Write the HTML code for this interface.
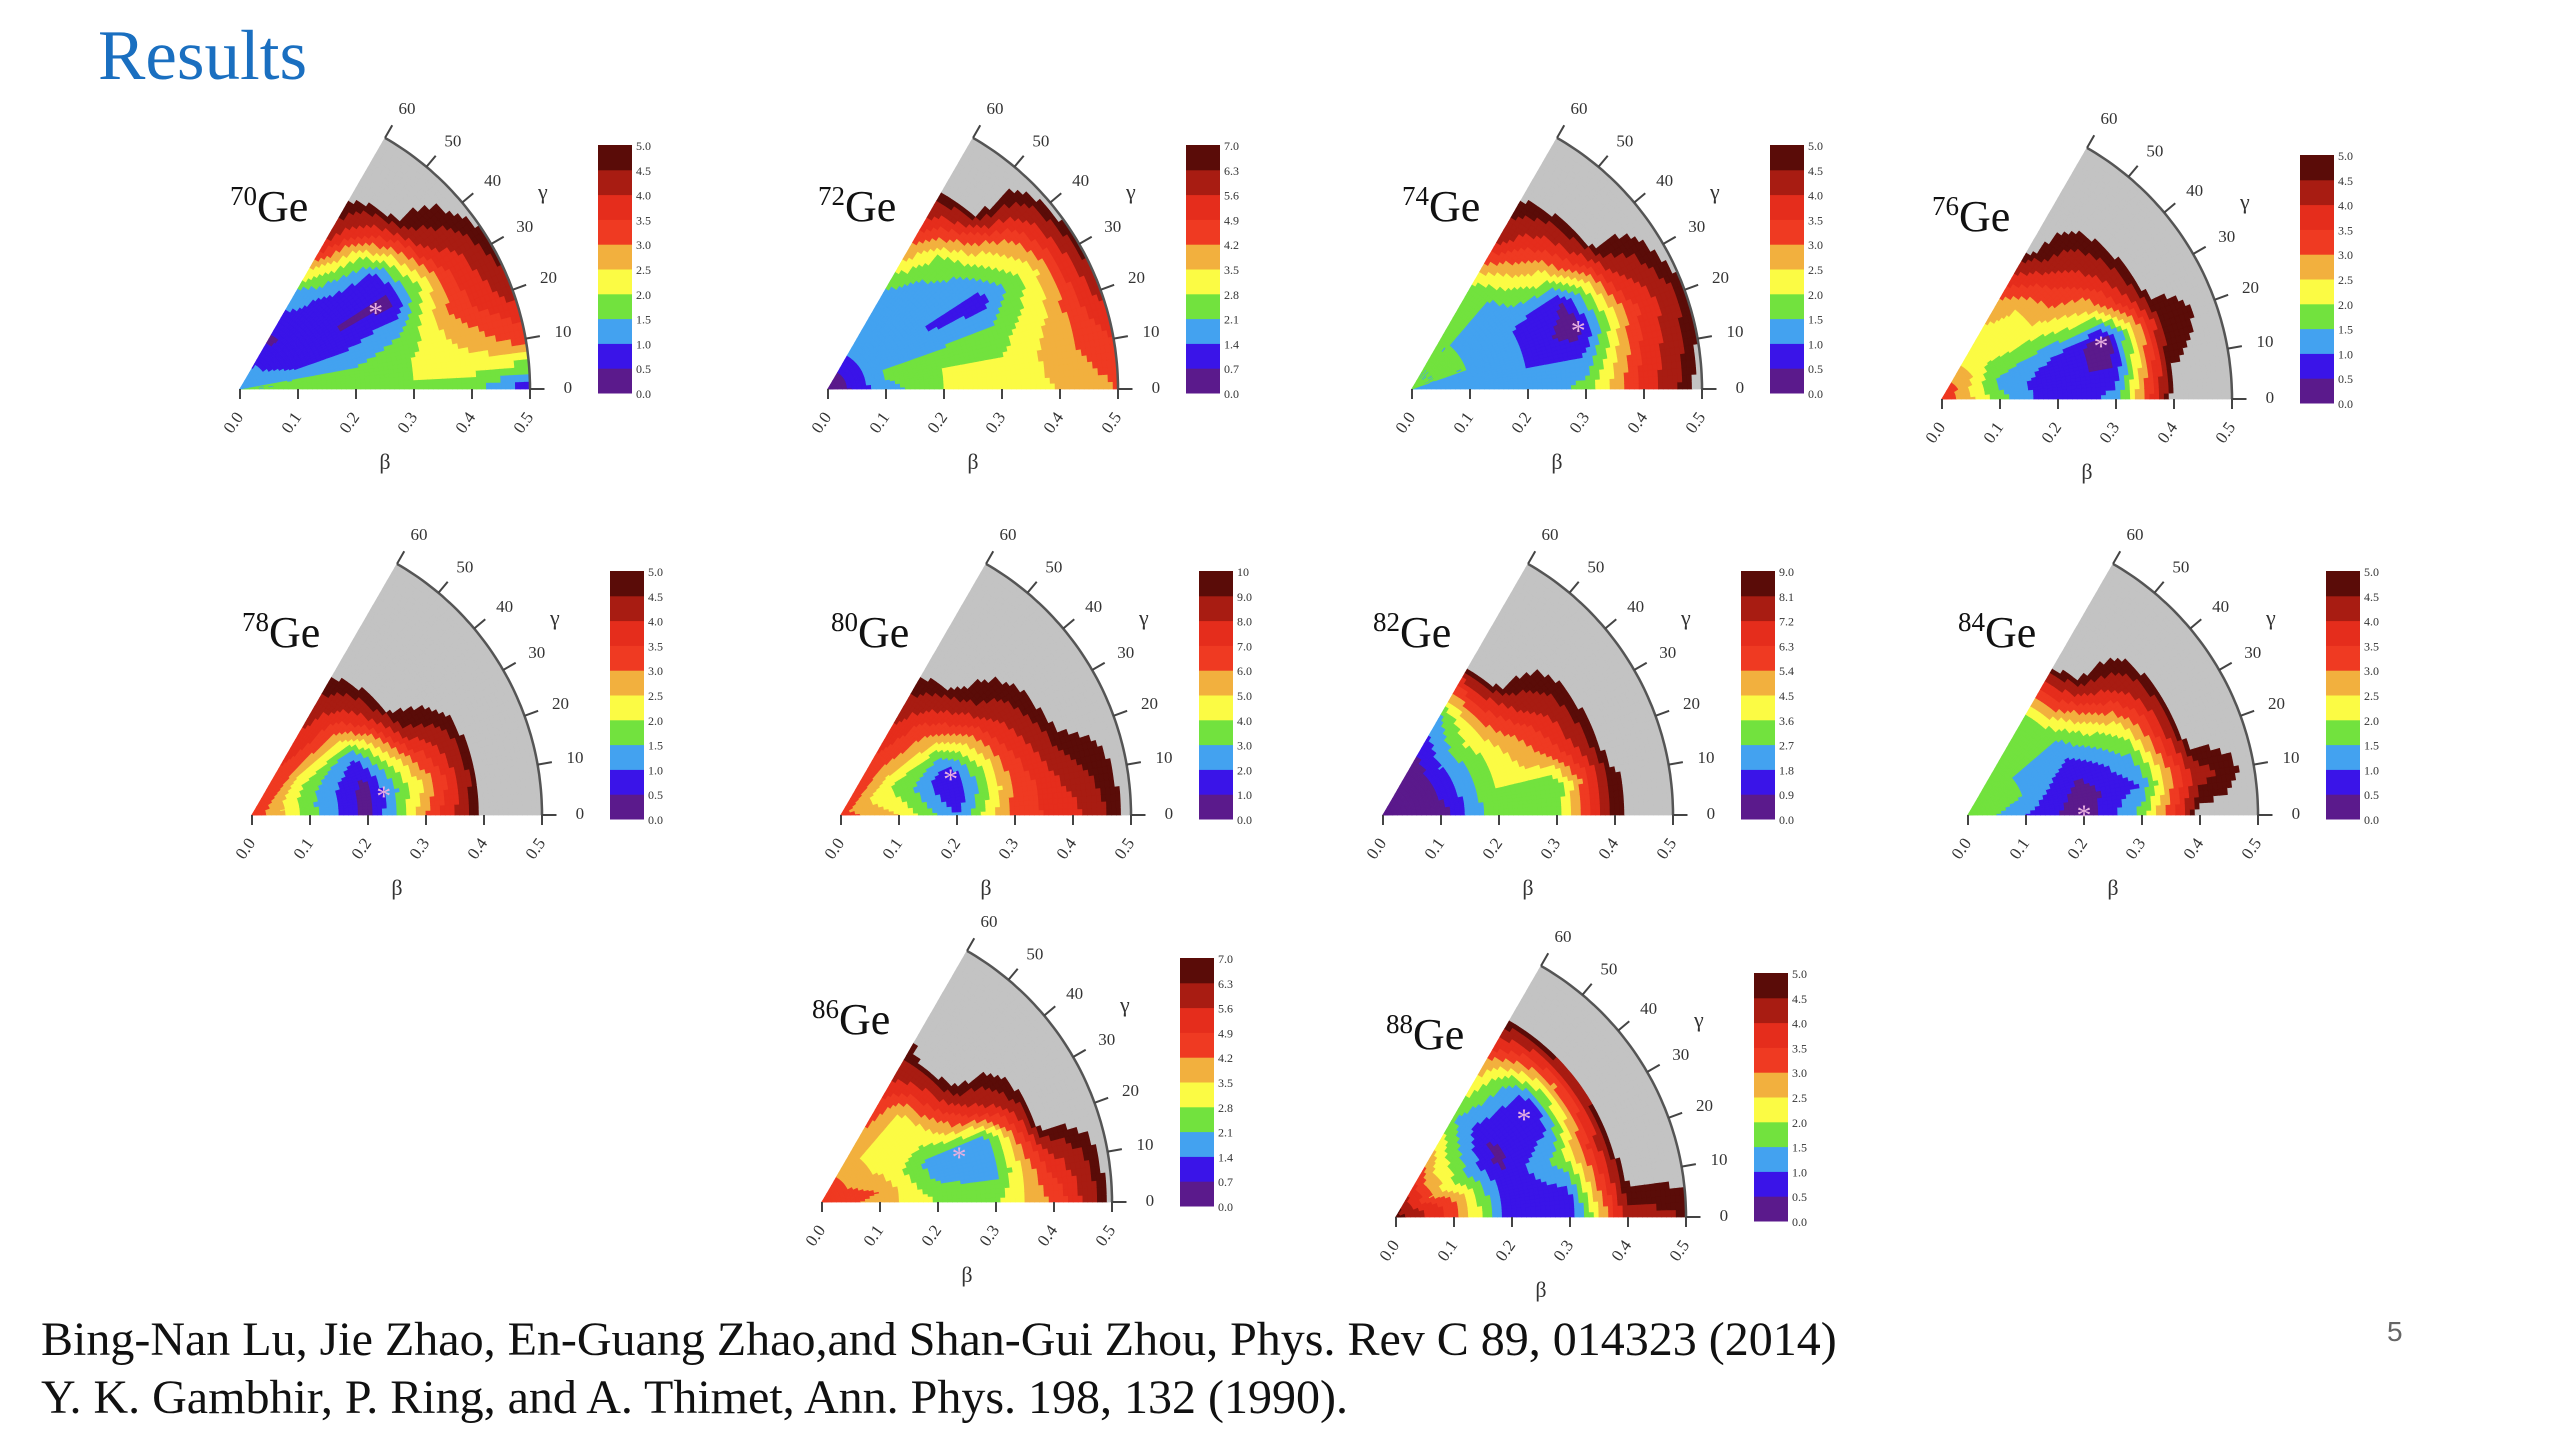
<!DOCTYPE html>
<html><head><meta charset="utf-8"><style>
html,body{margin:0;padding:0;background:#fff;}
body{width:2560px;height:1440px;overflow:hidden;position:relative;font-family:"Liberation Serif",serif;}
#title{position:absolute;left:98px;top:16px;font-size:71px;color:#1a6fc0;}
.ref{position:absolute;left:41px;font-size:48px;color:#111;white-space:nowrap;}
#pg{position:absolute;left:2387px;top:1316px;font-size:28px;color:#666;font-family:"Liberation Sans",sans-serif;}
svg{position:absolute;left:0;top:0;}
</style></head><body>
<div id="title">Results</div>
<svg id="chart" width="2560" height="1440"></svg>
<div class="ref" style="top:1312px">Bing-Nan Lu, Jie Zhao, En-Guang Zhao,and Shan-Gui Zhou, Phys. Rev C 89, 014323 (2014)</div>
<div class="ref" style="top:1370px">Y. K. Gambhir, P. Ring, and A. Thimet, Ann. Phys. 198, 132 (1990).</div>
<div id="pg">5</div>
<script>
// nuclei and panel metadata
const nuclei = ["70","72","74","76","78","80","82","84","86","88"];
const energyMax = [5.0,7.0,5.0,5.0,5.0,10,9.0,5.0,7.0,5.0];
const betaTicks = ["0.0","0.1","0.2","0.3","0.4","0.5"];
const gammaTicks = ["0","10","20","30","40","50","60"];
// minimum locations [beta, gamma]
const minima = [[0.27,30],[null,null],[0.305,20],[0.29,19],[0.23,9],[0.2,19],[null,null],[0.2,1],[0.25,19],[0.28,38]];
// energy level grids: rows gamma 0..60 step 10, cols beta 0..0.5 step 0.1 (level units 0-10, >=9.6 = gray)
const grid70 = [[3,3,3.5,4,3.5,1],[3,3,3,4,5,6.5],[3,2,2,3,6.5,8.5],[3,1.5,1,0.8,6.5,9.5],[3,1,1,1.5,8.5,10],[3,1,2,4.5,10,10],[3,0.8,3,8.5,10,10]];
const grid72 = [[0,2.5,4,4.5,5,6],[0,3,4,4,5.5,7],[0,3,3,3.2,5,8.5],[0,3,2,1.5,4.3,9.5],[0,3,2,3,6,10],[0,3,2.2,4,10,10],[0,3,3,6.5,10,10]];
const grid74 = [[3,2.5,2,3.5,7.5,10],[3,2.7,2,2,7,9.7],[3,3,2,0.3,6.5,9.5],[3,3,2,1,8,10],[3,3,2.5,4.5,10,10],[3,3,3,6.5,10,10],[3,3,3.5,8.5,10,10]];
const grid76 = [[7,3.5,1,2.5,10,10],[7,3,1,1,9.5,10],[7,3,2,0.3,9,10],[7,3.5,3.5,5,10,10],[7,4,5,7,10,10],[7,4,5,8.5,10,10],[7,4,6,10,10,10]];
const grid78 = [[7,3.5,0.5,6,10,10],[7,3.3,0.5,5,10,10],[7,3.5,1,6.5,10,10],[7,4,2,9,10,10],[7,5,5,10,10,10],[7,6.5,7,10,10,10],[7,7,8.5,10,10,10]];
const grid80 = [[6.5,5,2,6.5,7.5,10],[6.5,4.5,1,6,8.5,10],[6.5,4,1,6.5,9.5,10],[6.5,4,3,7.5,10,10],[6.5,5,5.5,9,10,10],[6.5,6,7,10,10,10],[6.5,6.5,8.5,10,10,10]];
const grid82 = [[0.3,0.3,4,3.5,9.5,10],[0.3,0.7,4,3,9.5,10],[0.3,1,4,6,10,10],[0.3,1,4,7,10,10],[0.3,1,4.5,8.5,10,10],[0.3,0.8,4,10,10,10],[0.3,0.5,3,10,10,10]];
const grid84 = [[4,2,0.2,3.5,10,10],[4,2.5,0.5,2,8.5,10],[4,3,1,3,10,10],[4,3,2,4.5,10,10],[4,3,3,7,10,10],[4,3,4,9.5,10,10],[4,3,4,10,10,10]];
const grid86 = [[7,5.5,4,4,6,10],[7,6,3,2.5,7.5,10],[7,5.5,2.5,2,10,10],[7,5,4,7,10,10],[7,5,4.5,9.5,10,10],[7,5,5,10,10,10],[7,5,7,9.5,10,10]];
const grid88 = [[9.5,6.5,1.2,1,8.5,9],[9.5,6.5,1,2,9.8,10],[9.5,6,1,3.5,10,10],[9.5,4.5,0.8,2,10,10],[9.5,5,1,1.2,10,10],[9.5,5,2,3,10,10],[9.5,6,3,5.5,10,10]];
const grids = [grid70,grid72,grid74,grid76,grid78,grid80,grid82,grid84,grid86,grid88];

const origins = [[240,389],[828,389],[1412,389],[1942,399],[252,815],[841,815],[1383,815],[1968,815],[822,1202],[1396,1217]];
const R = 290;
const colors = ["#5b1a8c","#3a14e8","#43a2f0","#72e23e","#fbfb44","#f2b03e","#ef3a22","#e52d1c","#a81c12","#5a0c08"];
const GRAY = "#c3c3c3";
const NS = "http://www.w3.org/2000/svg";
const svg = document.getElementById('chart');
function mk(tag, attrs, parent){const e=document.createElementNS(NS,tag);for(const k in attrs)e.setAttribute(k,attrs[k]);(parent||svg).appendChild(e);return e;}
function pt(o,b,g){const r=R*b/0.5, a=g*Math.PI/180;return [o[0]+r*Math.cos(a), o[1]-r*Math.sin(a)];}
function level(grid,b,g){
  const bi=Math.min(b/0.1,4.9999), gi=Math.min(g/10,5.9999);
  const i=Math.floor(bi), j=Math.floor(gi), fb=bi-i, fg=gi-j;
  return grid[j][i]*(1-fb)*(1-fg)+grid[j][i+1]*fb*(1-fg)+grid[j+1][i]*(1-fb)*fg+grid[j+1][i+1]*fb*fg;
}
function colorOf(v){ if(v>=9.6) return GRAY; return colors[Math.max(0,Math.min(9,Math.floor(v)))]; }

nuclei.forEach((nu,k)=>{
  const o=origins[k], grid=grids[k];
  const g0=mk('g',{},svg);
  
  
  const cells=mk('g',{},g0);
  
  
  const nb=60, ng=40;
  for(let i=0;i<nb;i++){
    for(let j=0;j<ng;j++){
      const b0=0.5*i/nb,b1=0.5*(i+1)/nb,ga=60*j/ng,gb=60*(j+1)/ng;
      const v=level(grid,(b0+b1)/2,(ga+gb)/2);
      const c=colorOf(v);
      const p=[pt(o,b0,ga),pt(o,b1,ga),pt(o,b1,gb),pt(o,b0,gb)];
      const e=mk('polygon',{points:p.map(q=>q[0].toFixed(1)+','+q[1].toFixed(1)).join(' '),fill:c,stroke:c,'stroke-width':0.8},cells);
      
      
    }
  }
  let d='M'+pt(o,0.5,0).join(',');
  for(let g=1;g<=60;g++) d+=' L'+pt(o,0.5,g).map(v=>v.toFixed(1)).join(',');
  const arc=mk('path',{d:d,fill:'none',stroke:'#555','stroke-width':2.5},g0);
  
  
  gammaTicks.forEach((t)=>{
    const g=+t;const a=pt(o,0.5,g), b=pt(o,0.525,g), c=pt(o,0.555,g);
    mk('line',{x1:a[0],y1:a[1],x2:b[0],y2:b[1],stroke:'#444','stroke-width':2},g0);
    const tx=mk('text',{x:c[0]+6,y:c[1]+4,'font-size':17,fill:'#333','text-anchor':'middle'},g0);
    tx.textContent=t;
    
    
  });
  const gl=mk('text',{x:o[0]+298,y:o[1]-190,'font-size':22,fill:'#333'},g0);gl.textContent='γ';
  
  
  betaTicks.forEach((t)=>{
    const x=o[0]+R*(+t)/0.5;
    mk('line',{x1:x,y1:o[1],x2:x,y2:o[1]+10,stroke:'#444','stroke-width':2},g0);
    const tx=mk('text',{x:x+4,y:o[1]+28,'font-size':17,fill:'#333','text-anchor':'end',transform:'rotate(-55 '+(x+4)+' '+(o[1]+28)+')'},g0);
    tx.textContent=t;
    
    
  });
  const bl=mk('text',{x:o[0]+145,y:o[1]+80,'font-size':22,fill:'#333','text-anchor':'middle'},g0);bl.textContent='β';
  
  
  const lab=mk('text',{x:o[0]-10,y:o[1]-168,'font-size':44,fill:'#111'},g0);
  lab.innerHTML='<tspan font-size="27" dy="-16">'+nu+'</tspan><tspan dy="16">Ge</tspan>';
  
  
  if(minima[k][0]!==null){
    const m=pt(o,minima[k][0],minima[k][1]);
    const s=mk('text',{x:m[0],y:m[1]+12,'font-size':30,fill:'#e8b0e0','text-anchor':'middle'},g0);s.textContent='*';
    
    
  }
  const cb=mk('g',{},g0);
  
  
  const cx=o[0]+358, top=o[1]-244, h=248, w=34;
  for(let i=0;i<10;i++){
    mk('rect',{x:cx,y:top+h*(9-i)/10,width:w,height:h/10+0.5,fill:colors[i]},cb);
  }
  for(let i=0;i<=10;i++){
    const y=top+h*(10-i)/10;
    const tx=mk('text',{x:cx+w+4,y:y+5,'font-size':12,fill:'#333'},cb);
    const val=energyMax[k]*i/10;
    tx.textContent=(energyMax[k]>=10 && i===10)?'10':val.toFixed(1);
  }
});
</script>
</body></html>
